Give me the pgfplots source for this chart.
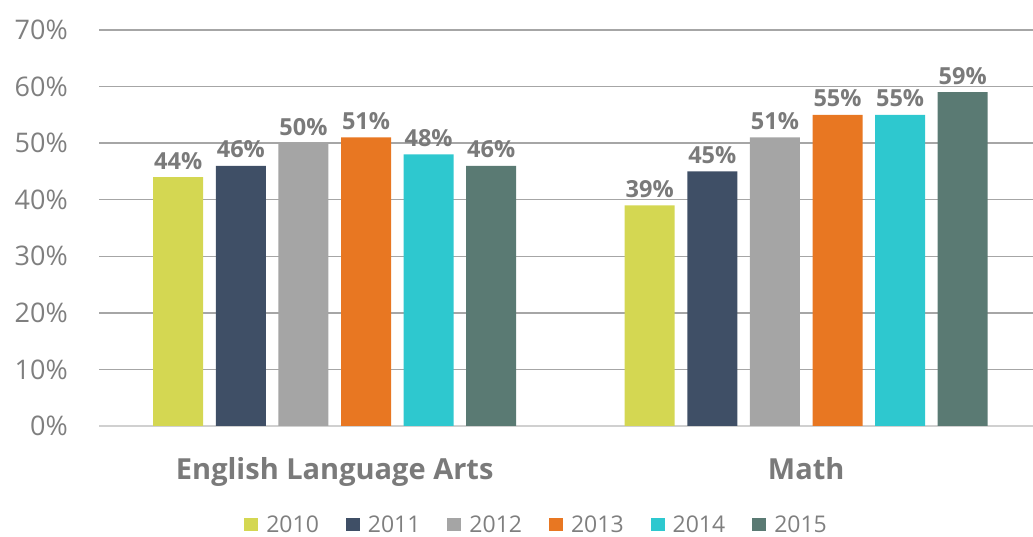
\documentclass[border=0pt]{standalone}
\usepackage{pgfplots}
\pgfplotsset{compat=1.18}
\usepackage{fontspec}
\setmainfont{Open Sans}
\definecolor{c10}{HTML}{D4D752}
\definecolor{c11}{HTML}{3F4F66}
\definecolor{c12}{HTML}{A5A5A5}
\definecolor{c13}{HTML}{E87722}
\definecolor{c14}{HTML}{2EC8CF}
\definecolor{c15}{HTML}{5A7A73}
\definecolor{gridgray}{HTML}{A6A6A6}
\definecolor{zerogray}{HTML}{D0D0D0}
\definecolor{tickgray}{HTML}{7F7F7F}
\definecolor{labgray}{HTML}{7A7A7A}
\newcommand{\tickfont}{\fontsize{27bp}{32bp}\selectfont}
\newcommand{\valfont}{\fontsize{23.5bp}{28bp}\selectfont\bfseries}
\newcommand{\catfont}{\fontsize{29bp}{34bp}\selectfont\bfseries}
\newcommand{\legfont}{\fontsize{23bp}{26bp}\selectfont}
\begin{document}
\begin{tikzpicture}
\useasboundingbox (0,0) rectangle (1033bp,537bp);
\begin{axis}[
  at={(99bp,111bp)}, anchor=south west,
  scale only axis, width=934bp, height=396bp,
  xmin=-0.5, xmax=1.481, ymin=0, ymax=70,
  ybar=12.6bp, bar width=50bp,
  axis line style={draw=none},
  /pgf/number format/assume math mode=true,
  ytick={10,20,30,40,50,60,70},
  yticklabels={10\%,20\%,30\%,40\%,50\%,60\%,70\%},
  extra y ticks={0}, extra y tick labels={0\%},
  extra y tick style={grid style={line width=1.5bp, color=zerogray}},
  ymajorgrids, grid style={line width=1.5bp, color=gridgray},
  major tick length=0pt, tick style={draw=none},
  yticklabel style={font=\tickfont, text=tickgray, inner sep=0pt, anchor=east, xshift=-31bp},
  xtick={0,1}, xticklabels={English Language Arts, Math},
  xticklabel style={font=\catfont, text=labgray, anchor=base, inner sep=0pt, yshift=-54bp},
  nodes near coords={\pgfmathprintnumber{\pgfplotspointmeta}\%},
  every node near coord/.append style={font=\valfont, text=labgray, anchor=base, inner sep=0pt, yshift=8bp},
  legend columns=6,
  legend image code/.code={\fill[#1] (0bp,-6.5bp) rectangle (14bp,6.5bp);},
  legend style={at={(0.4685,-0.2500)}, anchor=center, draw=none, fill=none,
    font=\legfont, text=tickgray, inner sep=0pt,
    /tikz/every odd column/.append style={column sep=6bp},
    /tikz/every even column/.append style={column sep=25bp}},
  legend cell align=left,
]
\addplot[fill=c10, draw=none] coordinates {(0,44) (1,39)};
\addplot[fill=c11, draw=none] coordinates {(0,46) (1,45)};
\addplot[fill=c12, draw=none] coordinates {(0,50) (1,51)};
\addplot[fill=c13, draw=none] coordinates {(0,51) (1,55)};
\addplot[fill=c14, draw=none] coordinates {(0,48) (1,55)};
\addplot[fill=c15, draw=none] coordinates {(0,46) (1,59)};
\legend{2010,2011,2012,2013,2014,2015}
\end{axis}
\end{tikzpicture}
\end{document}
